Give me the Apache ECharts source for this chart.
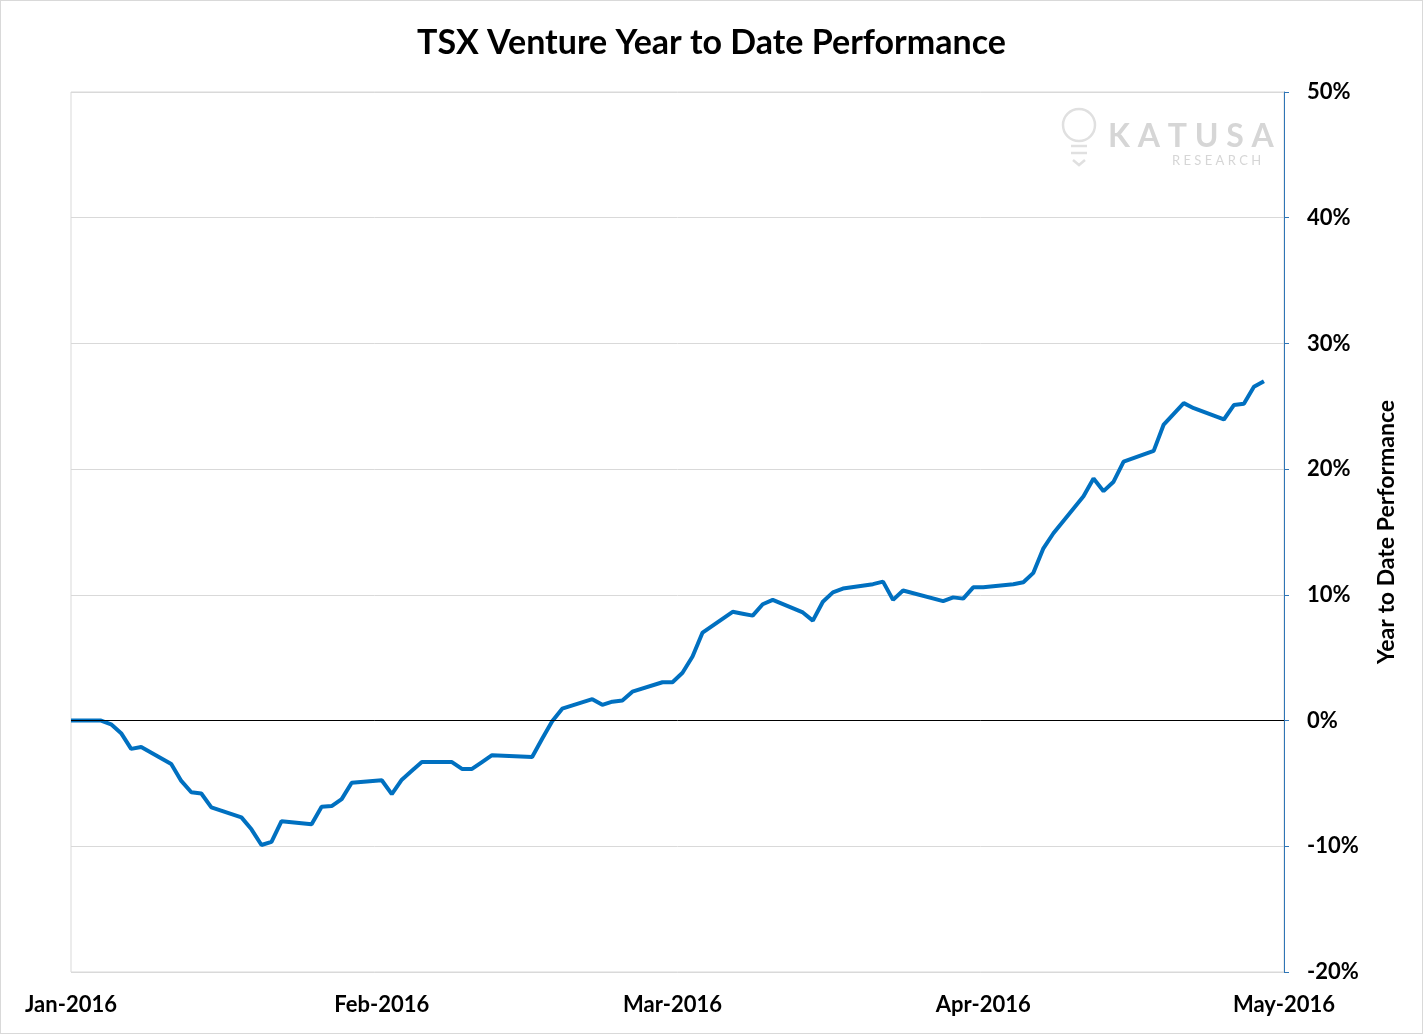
<!DOCTYPE html>
<html>
<head>
<meta charset="utf-8">
<title>TSX Venture Year to Date Performance</title>
<script src="https://cdn.jsdelivr.net/npm/echarts@6/dist/echarts.min.js"></script>
<style>
  html, body { margin: 0; padding: 0; background: #fff; }
  #chart {
    width: 1423px;
    height: 1034px;
    box-sizing: border-box;
    border: 1px solid #d9d9d9;
  }
</style>
</head>
<body>
<div id="chart"></div>
<script>
// trading days and year to date change (%)
const dates = [
  '2016-01-01', '2016-01-04', '2016-01-05', '2016-01-06', '2016-01-07', '2016-01-08',
  '2016-01-11', '2016-01-12', '2016-01-13', '2016-01-14', '2016-01-15',
  '2016-01-18', '2016-01-19', '2016-01-20', '2016-01-21', '2016-01-22',
  '2016-01-25', '2016-01-26', '2016-01-27', '2016-01-28', '2016-01-29',
  '2016-02-01', '2016-02-02', '2016-02-03', '2016-02-04', '2016-02-05',
  '2016-02-08', '2016-02-09', '2016-02-10', '2016-02-11', '2016-02-12',
  '2016-02-16', '2016-02-17', '2016-02-18', '2016-02-19',
  '2016-02-22', '2016-02-23', '2016-02-24', '2016-02-25', '2016-02-26',
  '2016-02-29', '2016-03-01', '2016-03-02', '2016-03-03', '2016-03-04',
  '2016-03-07', '2016-03-08', '2016-03-09', '2016-03-10', '2016-03-11',
  '2016-03-14', '2016-03-15', '2016-03-16', '2016-03-17', '2016-03-18',
  '2016-03-21', '2016-03-22', '2016-03-23', '2016-03-24',
  '2016-03-28', '2016-03-29', '2016-03-30', '2016-03-31', '2016-04-01',
  '2016-04-04', '2016-04-05', '2016-04-06', '2016-04-07', '2016-04-08',
  '2016-04-11', '2016-04-12', '2016-04-13', '2016-04-14', '2016-04-15',
  '2016-04-18', '2016-04-19', '2016-04-20', '2016-04-21', '2016-04-22',
  '2016-04-25', '2016-04-26', '2016-04-27', '2016-04-28', '2016-04-29'
]

const ytdValues = [
  0, 0, -0.3, -1.0, -2.25, -2.1,
  -3.45, -4.8, -5.7, -5.8, -6.9,
  -7.7, -8.65, -9.9, -9.65, -8.0,
  -8.25, -6.85, -6.8, -6.25, -4.95,
  -4.75, -5.85, -4.7, -4.0, -3.3,
  -3.3, -3.85, -3.85, -3.3, -2.75,
  -2.9, -1.45, -0.05, 0.95,
  1.7, 1.25, 1.5, 1.6, 2.3,
  3.05, 3.05, 3.8, 5.1, 7.0,
  8.65, 8.5, 8.35, 9.25, 9.6,
  8.6, 7.95, 9.45, 10.2, 10.5,
  10.85, 11.05, 9.6, 10.35,
  9.5, 9.8, 9.7, 10.6, 10.6,
  10.85, 11.0, 11.75, 13.7, 14.9,
  17.85, 19.25, 18.25, 19.0, 20.6,
  21.45, 23.55, 24.4, 25.25, 24.85,
  23.95, 25.1, 25.2, 26.55, 27.0
]

const tickDates = ['2016-01-01', '2016-02-01', '2016-03-01', '2016-04-01', '2016-05-01']
const tickLabels = ['Jan-2016', 'Feb-2016', 'Mar-2016', 'Apr-2016', 'May-2016']

const FONT = 'Lato, "Open Sans", sans-serif'

const toTime = d => new Date(d + 'T00:00:00Z').getTime()
const tickTimes = tickDates.map(toTime)
const seriesData = dates.map((d, i) => [toTime(d), ytdValues[i]])

const chart = echarts.init(document.getElementById('chart'))

const options = {
  animation: false,
  title: {
    text: 'TSX Venture Year to Date Performance',
    left: 'center',
    top: 20,
    textStyle: {
      fontFamily: FONT,
      fontWeight: 'bold',
      fontSize: 34,
      color: '#000'
    }
  },
  grid: {
    left: 70,
    right: 138,
    top: 91,
    bottom: 61,
    show: true,
    borderColor: '#d9d9d9',
    borderWidth: 1
  },
  xAxis: {
    type: 'value',
    min: tickTimes[0],
    max: tickTimes[tickTimes.length - 1],
    axisLine: { show: false },
    axisTick: { show: false },
    splitLine: { show: false },
    axisLabel: {
      customValues: tickTimes,
      showMinLabel: true,
      showMaxLabel: true,
      margin: 22,
      fontFamily: FONT,
      fontWeight: 'bold',
      fontSize: 22,
      color: '#000',
      formatter: value => {
        const i = tickTimes.indexOf(value)
        return i >= 0 ? tickLabels[i] : ''
      }
    }
  },
  yAxis: {
    type: 'value',
    position: 'right',
    min: -20,
    max: 50,
    interval: 10,
    name: 'Year to Date Performance',
    nameLocation: 'middle',
    nameRotate: 90,
    nameGap: 91,
    nameTextStyle: {
      fontFamily: FONT,
      fontWeight: 'bold',
      fontSize: 23,
      color: '#000'
    },
    axisLine: {
      show: true,
      lineStyle: { color: '#2e75b6', width: 1 }
    },
    axisTick: {
      show: true,
      length: 5,
      lineStyle: { color: '#2e75b6' }
    },
    axisLabel: {
      margin: 23,
      fontFamily: FONT,
      fontWeight: 'bold',
      fontSize: 22,
      color: '#000',
      formatter: '{value}%'
    },
    splitLine: {
      lineStyle: { color: '#d9d9d9' }
    }
  },
  graphic: [
    // faint watermark
    {
      type: 'circle',
      shape: { cx: 1078, cy: 124, r: 16 },
      style: { fill: 'none', stroke: '#e0e0e0', lineWidth: 2.5 }
    },
    {
      type: 'polyline',
      shape: { points: [[1070, 145], [1086, 145]] },
      style: { stroke: '#e0e0e0', lineWidth: 2.5 }
    },
    {
      type: 'polyline',
      shape: { points: [[1070, 152], [1086, 152]] },
      style: { stroke: '#e0e0e0', lineWidth: 2.5 }
    },
    {
      type: 'polyline',
      shape: { points: [[1072, 159], [1078, 164], [1084, 159]] },
      style: { stroke: '#e0e0e0', lineWidth: 2.5 }
    },
    {
      type: 'text',
      left: 1107,
      top: 120,
      style: {
        text: 'K A T U S A',
        fontFamily: FONT,
        fontWeight: 'bold',
        fontSize: 32,
        fill: '#d6d6d6'
      }
    },
    {
      type: 'text',
      left: 1171,
      top: 153,
      style: {
        text: 'R E S E A R C H',
        fontFamily: FONT,
        fontSize: 13,
        fill: '#d6d6d6'
      }
    }
  ],
  series: [
    {
      name: 'TSX Venture',
      type: 'line',
      data: seriesData,
      showSymbol: false,
      symbol: 'none',
      lineStyle: { color: '#0070c0', width: 4 },
      itemStyle: { color: '#0070c0' },
      markLine: {
        silent: true,
        symbol: 'none',
        label: { show: false },
        lineStyle: { color: '#000', width: 1, type: 'solid' },
        data: [{ yAxis: 0 }]
      }
    }
  ]
}

chart.setOption(options)

window.addEventListener('resize', () => chart.resize())
</script>
</body>
</html>
